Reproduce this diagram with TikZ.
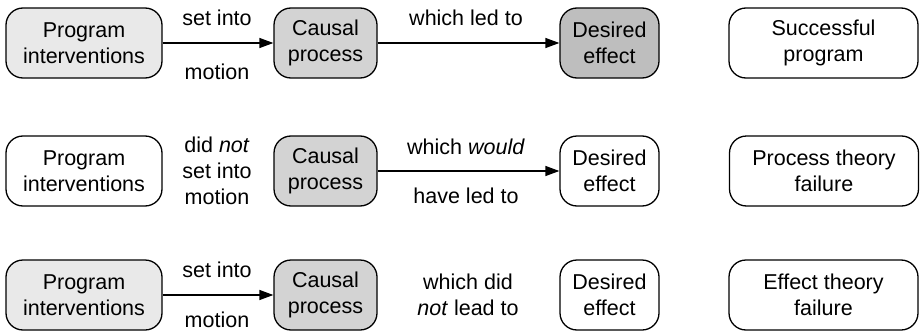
\documentclass[tikz,border=0pt]{standalone}
\usepackage{fontspec}
\setmainfont{Liberation Sans}
\usetikzlibrary{arrows.meta}
\definecolor{fillA}{HTML}{E9E9E9}
\definecolor{fillB}{HTML}{D3D3D3}
\definecolor{fillC}{HTML}{BEBEBE}
\begin{document}
\begin{tikzpicture}[x=1pt,y=-1pt,
  box/.style={draw=black,line width=1.3pt,rounded corners=17pt,minimum height=70pt,inner sep=0pt,align=center,font=\fontsize{21.5}{26}\selectfont},
  lbl/.style={inner sep=0pt,align=center,font=\fontsize{21.5}{26}\selectfont},
  conn/.style={line width=1.3pt,-{Triangle[length=14pt,width=10pt]}}]
\useasboundingbox (0,0) rectangle (921,332);
% Row 1
\node[box,minimum width=156pt,fill=fillA] (pi1) at (84,43) {Program\\interventions};
\node[box,minimum width=103pt,fill=fillB] (cp1) at (325.5,43) {Causal\\process};
\node[box,minimum width=99pt,fill=fillC] (de1) at (609.5,43) {Desired\\effect};
\node[box,minimum width=189pt] (sp1) at (823.5,43) {Successful\\program};
\draw[conn] (pi1) -- (cp1);
\draw[conn] (cp1) -- (de1);
\node[lbl] (l1a) at (217,18) {set into};
\node[lbl] (l1b) at (217,72) {motion};
\node[lbl] (l1c) at (466,18) {which led to};
% Row 2
\node[box,minimum width=156pt] (pi2) at (84,171) {Program\\interventions};
\node[box,minimum width=103pt,fill=fillB] (cp2) at (325.5,171) {Causal\\process};
\node[box,minimum width=99pt] (de2) at (609.5,171) {Desired\\effect};
\node[box,minimum width=189pt] (sp2) at (824,171) {Process theory\\failure};
\draw[conn] (cp2) -- (de2);
\node[lbl] (l2a) at (217,171) {did \textit{not}\\set into\\motion};
\node[lbl] (l2b) at (466,147) {which \textit{would}};
\node[lbl] (l2c) at (466,196) {have led to};
% Row 3
\node[box,minimum width=156pt,fill=fillA] (pi3) at (84,295) {Program\\interventions};
\node[box,minimum width=103pt,fill=fillB] (cp3) at (325.5,295) {Causal\\process};
\node[box,minimum width=99pt] (de3) at (609.5,295) {Desired\\effect};
\node[box,minimum width=189pt] (sp3) at (823.5,295) {Effect theory\\failure};
\draw[conn] (pi3) -- (cp3);
\node[lbl] (l3a) at (217,270) {set into};
\node[lbl] (l3b) at (217,319.5) {motion};
\node[lbl] (l3c) at (468,295) {which did\\\textit{not} lead to};
\end{tikzpicture}
\end{document}
